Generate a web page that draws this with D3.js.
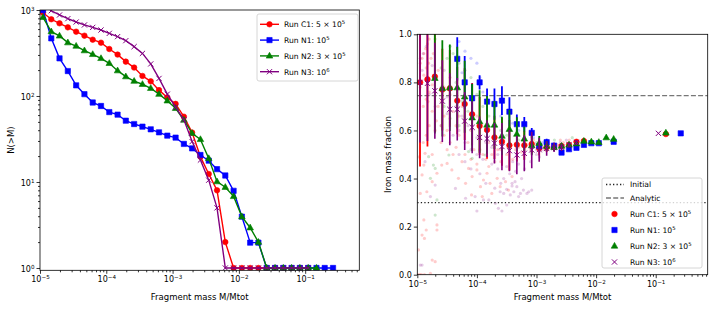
<!DOCTYPE html>
<html>
<head>
<meta charset="utf-8">
<script src="https://cdn.jsdelivr.net/npm/d3@7"></script>
<style>
  body { margin: 0; background: #fff; }
  svg { display: block; }
  text { font-family: "DejaVu Sans", sans-serif; fill: #000; }
</style>
</head>
<body>
<svg id="chart" width="714" height="311"></svg>
<script>
// fragment mass bins (M/Mtot), 8 per decade
const massBins = [1.11e-5, 1.48e-5, 1.97e-5, 2.63e-5, 3.51e-5, 4.68e-5, 6.24e-5, 8.32e-5,
  1.11e-4, 1.48e-4, 1.97e-4, 2.63e-4, 3.51e-4, 4.68e-4, 6.24e-4, 8.32e-4,
  1.11e-3, 1.48e-3, 1.97e-3, 2.63e-3, 3.51e-3, 4.68e-3, 6.24e-3, 8.32e-3,
  1.11e-2, 1.48e-2, 1.97e-2, 2.63e-2, 3.51e-2, 4.68e-2, 6.24e-2, 8.32e-2,
  0.111, 0.148, 0.197, 0.263];

const runNames = ["Run C1: 5 \u00d7 10", "Run N1: 10", "Run N2: 3 \u00d7 10", "Run N3: 10"];
const runExps = ["5", "5", "5", "6"];
const runColors = ["red", "blue", "green", "purple"];
const runMarkers = ["circle", "square", "triangle", "x"];

// left panel: cumulative number N(>M)
const countC1 = [930, 780, 700, 628, 560, 503, 452, 417, 352, 303, 251, 214, 171, 148, 117, 96, 81, 57.5, 37.5, 19.7, 12.4, 8, 2,
  1, 1, 1, 1, 1, 1, 1, 1, 1, 1];
const countN1 = [1000, 468, 274, 195, 133, 105, 84, 76.5, 65, 60.7, 51.6, 47.2, 44, 41, 37.8, 34.6, 32.8, 27.7, 24.6, 20.6, 17.7, 14.1, 11.9, 7.9, 3.95, 1.97, 1.97,
  1, 1, 1, 1, 1, 1, 1, 1, 1];
const countN2 = [822, 560, 500, 417, 381, 337, 305, 274, 240, 197, 168, 149, 137, 123, 105, 88, 72, 52.6, 36.8, 31.3, 18.8, 10.1, 8.7, 6.8, 3.95, 2.94, 2.0,
  1, 1, 1, 1, 1, 1, 1];
const countN3 = [1200, 980, 875, 793, 725, 670, 628, 585, 535, 490, 440, 375, 313, 236, 160, 105, 74, 53, 29.5, 18, 10.5, 5,
  1, 1, 1, 1, 1, 1, 1, 1, 1, 1, 1];

// right panel: binned iron mass fraction and spread
const fracC1 = [0.80, 0.813, 0.824, 0.77, 0.775, 0.724, 0.71, 0.667, 0.619, 0.602, 0.571, 0.553, 0.538, 0.541, 0.538, 0.544,
  0.526, 0.53, 0.53, 0.535, 0.54, 0.553, 0.556, null, null, null, null, null, null, null, null, null, null, 0.585];
const errC1 = [0.35, 0.28, 0.23, 0.17, 0.16, 0.14, 0.15, 0.13, 0.12, 0.12, 0.09, 0.10, 0.105, 0.07, 0.06, 0.04,
  0.03, 0.02, 0.015, 0.012, 0.01, 0.008, 0.005, null, null, null, null, null, null, null, null, null, null, 0];
const fracN1 = [null, null, null, null, null, 0.898, 0.80, 0.734, 0.80, 0.72, 0.71, 0.724, 0.678, 0.626, 0.626, 0.59,
  0.535, 0.551, 0.537, 0.508, 0.522, 0.528, 0.54, 0.547, 0.547, null, 0.553, null, null, null, null, null, null, null, null, 0.588];
const errN1 = [null, null, null, null, null, 0.09, 0.11, 0.06, 0.03, 0.055, 0.065, 0.06, 0.06, 0.04, 0.03, 0.02,
  0.015, 0.015, 0.01, 0.01, 0.008, 0.008, 0.006, 0.005, 0.005, null, 0.004, null, null, null, null, null, null, null, null, 0];
const fracN2 = [null, null, 0.817, 0.775, 0.778, 0.778, 0.74, 0.653, 0.637, 0.623, 0.623, 0.577, 0.605, 0.585, 0.565, 0.537,
  0.547, 0.535, 0.53, 0.535, 0.54, 0.545, 0.556, 0.553, 0.551, 0.57, 0.564, null, null, null, null, null, null, 0.59];
const errN2 = [null, null, 0.23, 0.2, 0.18, 0.17, 0.15, 0.14, 0.13, 0.12, 0.1, 0.08, 0.08, 0.07, 0.05, 0.04,
  0.03, 0.02, 0.015, 0.012, 0.01, 0.01, 0.008, 0.006, 0.005, 0.004, 0.004, null, null, null, null, null, null, 0];
const fracN3 = [0.80, 0.796, 0.765, 0.722, 0.688, 0.688, 0.639, 0.613, 0.571, 0.566, 0.547, 0.533, 0.516, 0.498, 0.505, 0.519,
  0.52, 0.525, 0.53, 0.53, 0.54, 0.55, null, null, null, null, null, null, null, null, null, null, 0.588];
const errN3 = [0.25, 0.24, 0.2, 0.17, 0.15, 0.13, 0.12, 0.108, 0.087, 0.076, 0.084, 0.098, 0.086, 0.08, 0.075, 0.076,
  0.05, 0.03, 0.02, 0.015, 0.01, 0.01, null, null, null, null, null, null, null, null, null, null, 0];

// individual fragments (log10 M/Mtot, iron fraction)
const cloudC1 = [[-4.97,0.49],[-4.87,0.505],[-4.89,0.456],[-4.92,0.415],[-4.95,0.338],[-4.84,0.345],[-4.75,0.387],[-4.67,0.422],
  [-4.59,0.456],[-4.5,0.463],[-4.42,0.436],[-4.31,0.401],[-4.25,0.47],[-4.19,0.38],[-4.14,0.442],[-4.08,0.408],[-4.0,0.436],
  [-3.94,0.366],[-3.89,0.394],[-3.83,0.422],[-3.78,0.38],[-3.75,0.338],[-3.66,0.401],[-3.61,0.366],[-3.52,0.387],[-3.47,0.352],
  [-3.41,0.408],[-3.91,0.325],[-4.09,0.332],[-4.89,0.228],[-4.92,0.165],[-4.88,0.151],[-4.75,0.061],[-4.7,0.054],[-4.98,0.103],
  [-4.85,0.186],[-4.67,0.207],[-4.67,0.186],[-4.99,0.0],[-4.96,0.0],[-4.93,0.0],[-4.88,0.0],[-4.78,0.006],
  [-4.95,0.88],[-4.92,0.9],[-4.89,0.92],[-4.86,0.94],[-4.83,0.96],[-4.8,0.98],[-4.95,0.78],[-4.92,0.8],[-4.89,0.83],[-4.85,0.86],
  [-4.81,0.88],[-4.77,0.9],[-4.73,0.92],[-4.9,0.7],[-4.85,0.73],[-4.8,0.76],[-4.75,0.79],[-4.7,0.82],[-4.65,0.85],[-4.6,0.72],
  [-4.55,0.66],[-4.5,0.6],[-4.45,0.75],[-4.4,0.68],[-4.35,0.62],[-4.3,0.58],[-4.25,0.7],[-4.2,0.64],[-4.15,0.55],[-4.1,0.6],
  [-4.05,0.52],[-4.0,0.66],[-3.95,0.57],[-3.9,0.5],[-3.85,0.6],[-3.8,0.55],[-3.75,0.5],[-3.7,0.58],[-3.65,0.52],[-3.6,0.47],
  [-3.5,0.5],[-3.4,0.48],[-3.3,0.53],[-3.2,0.55],[-3.1,0.52],[-3.0,0.54],[-2.9,0.53],[-2.8,0.55],[-2.7,0.54],[-2.6,0.56],
  [-4.7,0.6],[-4.6,0.55],[-4.5,0.52],[-4.8,0.62],[-4.85,0.58],[-4.9,0.55],[-4.75,0.5],
  [-4.6,0.62],[-4.55,0.58],[-4.45,0.55],[-4.4,0.5],[-4.35,0.53],[-4.2,0.5],[-4.1,0.48],[-4.0,0.46],[-3.95,0.52],[-3.85,0.48],
  [-3.8,0.45],[-3.7,0.47],[-3.6,0.52],[-3.55,0.56],[-3.45,0.54],[-3.35,0.52],[-3.25,0.51],[-3.15,0.54],[-3.05,0.56],[-2.95,0.55],
  [-2.85,0.52],[-2.75,0.53],[-2.65,0.54],[-2.55,0.55],[-2.45,0.56],[-2.35,0.55],[-4.3,0.66],[-4.2,0.72],[-4.45,0.82],[-4.55,0.78],
  [-4.65,0.7],[-4.75,0.68],[-4.82,0.72],[-4.68,0.64]];
const cloudN1 = [[-4.3,0.97],[-4.2,0.93],[-4.1,0.9],[-4.0,0.88],[-3.95,0.82],[-4.25,0.84],[-3.9,0.76],[-3.8,0.72],[-3.7,0.7],
  [-3.6,0.66],[-3.4,0.63],[-3.3,0.6],[-3.2,0.56],[-3.05,0.57],[-2.9,0.55],[-2.6,0.53],[-2.3,0.55]];
const cloudN2 = [[-4.81,0.491],[-4.73,0.456],[-4.7,0.442],[-4.78,0.401],[-4.7,0.248],[-4.47,0.498],[-4.14,0.512],[-3.86,0.498],
  [-4.08,0.484],[-4.67,0.311],[-4.5,0.9],[-4.4,0.92],[-4.3,0.88],[-4.2,0.85],[-4.1,0.82],[-4.35,0.8],[-4.6,0.86],[-4.0,0.75],
  [-3.9,0.7],[-3.8,0.66],[-4.25,0.72],[-4.15,0.68],[-3.7,0.62],[-3.6,0.6],[-3.5,0.58],[-4.45,0.95],[-4.7,0.98],[-4.55,0.7],
  [-4.45,0.65],[-4.3,0.62],[-3.3,0.56],[-3.0,0.55],[-2.7,0.56],[-2.4,0.57]];
const cloudN3 = [[-4.95,0.04],[-4.92,0.04],[-3.61,0.345],[-3.55,0.338],[-3.5,0.355],[-3.44,0.332],[-3.38,0.345],[-3.33,0.366],
  [-3.27,0.338],[-3.22,0.352],[-3.16,0.338],[-3.41,0.369],[-3.3,0.325],[-3.64,0.276],[-3.58,0.265],[-3.5,0.29],[-3.69,0.297],
  [-3.8,0.311],[-3.89,0.311],[-4.0,0.265],[-4.03,0.325],[-3.13,0.345],[-3.08,0.352],[-3.41,0.38],[-3.36,0.387],[-4.87,0.47],
  [-4.7,0.373],[-4.19,0.318],[-4.36,0.359],[-4.78,0.325],[-3.55,0.4],[-3.45,0.42],[-3.25,0.4],[-3.35,0.43],[-3.65,0.44],
  [-3.75,0.46],[-3.9,0.48],[-4.95,0.9],[-4.9,0.92],[-4.85,0.95],[-4.92,0.85],[-4.8,0.75],[-4.7,0.7],[-4.6,0.62],[-4.5,0.67],
  [-4.4,0.58],[-4.3,0.6],[-4.2,0.55],[-4.1,0.52],[-4.0,0.5],[-3.2,0.5],[-3.0,0.52],[-2.8,0.54],[-2.6,0.55],[-2.5,0.56],
  [-4.3,0.5],[-4.2,0.47],[-4.1,0.44],[-3.95,0.42],[-3.85,0.38],[-3.7,0.36],[-3.6,0.38],[-3.5,0.45],[-3.4,0.47],[-3.3,0.46],
  [-3.2,0.44],[-3.1,0.47],[-3.0,0.5],[-2.9,0.52],[-2.95,0.49],[-3.65,0.5],[-3.75,0.53],[-3.85,0.55],[-4.0,0.57],[-4.15,0.62],
  [-4.25,0.66],[-4.35,0.7],[-4.5,0.74],[-4.6,0.78],[-4.7,0.82],[-4.75,0.87],[-4.55,0.85]];

const initialFrac = 0.30;
const analyticFrac = 0.745;

const counts = [countC1, countN1, countN2, countN3];
const fracs = [fracC1, fracN1, fracN2, fracN3];
const errs = [errC1, errN1, errN2, errN3];
const clouds = [cloudC1, cloudN1, cloudN2, cloudN3];

const svg = d3.select("#chart");
const tickFont = 8;
const labelFont = 8.5;
const legendFont = 7.6;

// panel boxes
const L = {left: 40, right: 359.3, top: 10, bottom: 270.3};
const R = {left: 417.3, right: 707.7, top: 34.3, bottom: 274.7};

const xL = d3.scaleLog().domain([1e-5, 0.655]).range([L.left, L.right]);
const yL = d3.scaleLog().domain([0.94, 1000]).range([L.bottom, L.top]);
const xR = d3.scaleLog().domain([1e-5, 0.745]).range([R.left, R.right]);
const yR = d3.scaleLinear().domain([0, 1]).range([R.bottom, R.top]);

function markerPath(type) {
  if (type === "circle") return d3.symbol(d3.symbolCircle, 24)();
  if (type === "square") return d3.symbol(d3.symbolSquare, 28)();
  if (type === "triangle") return "M0,-3.6L3.3,2.2L-3.3,2.2Z";
  return "M-2.6,-2.6L2.6,2.6M-2.6,2.6L2.6,-2.6";
}
function drawMarker(sel, type, color) {
  sel.attr("d", markerPath(type))
    .attr("fill", type === "x" ? "none" : color)
    .attr("stroke", color)
    .attr("stroke-width", type === "x" ? 1 : 0.6);
}

function powLabel(sel, base, exp) {
  sel.text(null);
  sel.append("tspan").text(base);
  sel.append("tspan").attr("font-size", "0.7em").attr("dy", "-0.55em").text(exp);
}
const expText = d => { const e = Math.round(Math.log10(d)); return (e < 0 ? "\u2212" : "") + Math.abs(e); };

function minorsFor(scale) {
  const [a, b] = scale.domain();
  const out = [];
  for (let e = Math.floor(Math.log10(a)); e <= Math.ceil(Math.log10(b)); e++)
    for (let m = 2; m <= 9; m++) { const v = m * Math.pow(10, e); if (v >= a && v <= b) out.push(v); }
  return out;
}

function styleAxis(g) {
  g.attr("font-family", "DejaVu Sans, sans-serif").attr("font-size", tickFont);
  g.select(".domain").remove();
  g.selectAll(".tick line").attr("stroke", "#000").attr("stroke-width", 0.8);
}

function logAxisX(box, scale, majors) {
  const g = svg.append("g").attr("transform", `translate(0,${box.bottom})`);
  g.call(d3.axisBottom(scale).tickValues(majors).tickSize(3.5).tickPadding(3).tickFormat(() => ""));
  styleAxis(g);
  g.selectAll(".tick text").each(function(d) { powLabel(d3.select(this), "10", expText(d)); });
  const gm = svg.append("g").attr("transform", `translate(0,${box.bottom})`);
  gm.call(d3.axisBottom(scale).tickValues(minorsFor(scale)).tickSize(2).tickFormat(() => ""));
  styleAxis(gm);
}

function frame(box) {
  svg.append("rect").attr("x", box.left).attr("y", box.top)
    .attr("width", box.right - box.left).attr("height", box.bottom - box.top)
    .attr("fill", "none").attr("stroke", "#000").attr("stroke-width", 0.8);
}

function clip(id, box) {
  svg.append("clipPath").attr("id", id).append("rect")
    .attr("x", box.left).attr("y", box.top)
    .attr("width", box.right - box.left).attr("height", box.bottom - box.top);
}
clip("clipL", L);
clip("clipR", R);

// ---------------- left panel ----------------
const gL = svg.append("g").attr("clip-path", "url(#clipL)");
counts.forEach((arr, r) => {
  const pts = arr.map((v, i) => [massBins[i], v]);
  gL.append("path").datum(pts)
    .attr("d", d3.line().x(d => xL(d[0])).y(d => yL(d[1])))
    .attr("fill", "none").attr("stroke", runColors[r]).attr("stroke-width", 1.4);
  gL.selectAll(null).data(pts).join("path")
    .attr("transform", d => `translate(${xL(d[0])},${yL(d[1])})`)
    .call(drawMarker, runMarkers[r], runColors[r]);
});

logAxisX(L, xL, [1e-5, 1e-4, 1e-3, 1e-2, 1e-1]);

const gyL = svg.append("g").attr("transform", `translate(${L.left},0)`);
gyL.call(d3.axisLeft(yL).tickValues([1, 10, 100, 1000]).tickSize(3.5).tickPadding(2).tickFormat(() => ""));
styleAxis(gyL);
gyL.selectAll(".tick text").attr("dy", "0.45em").each(function(d) { powLabel(d3.select(this), "10", expText(d)); });
const gyLm = svg.append("g").attr("transform", `translate(${L.left},0)`);
gyLm.call(d3.axisLeft(yL).tickValues(minorsFor(yL)).tickSize(2).tickFormat(() => ""));
styleAxis(gyLm);

frame(L);

svg.append("text").attr("x", (L.left + L.right) / 2).attr("y", 300)
  .attr("text-anchor", "middle").attr("font-size", labelFont).text("Fragment mass M/Mtot");
svg.append("text").attr("transform", `translate(14,${(L.top + L.bottom) / 2}) rotate(-90)`)
  .attr("text-anchor", "middle").attr("font-size", labelFont).text("N(>M)");

// left legend
const legL = svg.append("g");
legL.append("rect").attr("x", 257).attr("y", 14).attr("width", 101).attr("height", 67).attr("rx", 2)
  .attr("fill", "#fff").attr("fill-opacity", 0.8).attr("stroke", "#ccc").attr("stroke-width", 0.8);
runNames.forEach((name, r) => {
  const y = 24.3 + 15.8 * r;
  legL.append("line").attr("x1", 260).attr("x2", 279).attr("y1", y).attr("y2", y)
    .attr("stroke", runColors[r]).attr("stroke-width", 1.4);
  legL.append("path").attr("transform", `translate(269.5,${y})`).call(drawMarker, runMarkers[r], runColors[r]);
  legL.append("text").attr("x", 284).attr("y", y + 2.8).attr("font-size", legendFont)
    .call(powLabel, name, runExps[r]);
});

// ---------------- right panel ----------------
const gR = svg.append("g").attr("clip-path", "url(#clipR)");
clouds.forEach((pts, r) => {
  gR.selectAll(null).data(pts).join("circle")
    .attr("cx", d => xR(Math.pow(10, d[0]))).attr("cy", d => yR(d[1])).attr("r", 1.6)
    .attr("fill", runColors[r]).attr("fill-opacity", 0.2);
});

gR.append("line").attr("x1", R.left).attr("x2", R.right).attr("y1", yR(initialFrac)).attr("y2", yR(initialFrac))
  .attr("stroke", "#222").attr("stroke-width", 1.3).attr("stroke-dasharray", "1.3,2.2");
gR.append("line").attr("x1", R.left).attr("x2", R.right).attr("y1", yR(analyticFrac)).attr("y2", yR(analyticFrac))
  .attr("stroke", "#777").attr("stroke-width", 1.3).attr("stroke-dasharray", "5,2.2");

fracs.forEach((arr, r) => {
  const rows = arr.map((v, i) => ({m: massBins[i], v, e: errs[r][i]})).filter(d => d.v != null);
  gR.selectAll(null).data(rows.filter(d => d.e > 0)).join("line")
    .attr("x1", d => xR(d.m)).attr("x2", d => xR(d.m))
    .attr("y1", d => yR(d.v - d.e)).attr("y2", d => yR(d.v + d.e))
    .attr("stroke", runColors[r]).attr("stroke-width", r === 3 ? 1.6 : 1.8);
  gR.selectAll(null).data(rows).join("path")
    .attr("transform", d => `translate(${xR(d.m)},${yR(d.v)})`)
    .call(drawMarker, runMarkers[r], runColors[r]);
});

logAxisX(R, xR, [1e-5, 1e-4, 1e-3, 1e-2, 1e-1]);
const gyR = svg.append("g").attr("transform", `translate(${R.left},0)`);
gyR.call(d3.axisLeft(yR).tickValues([0, 0.2, 0.4, 0.6, 0.8, 1.0]).tickSize(3.5).tickPadding(2).tickFormat(d3.format(".1f")));
styleAxis(gyR);

frame(R);

svg.append("text").attr("x", (R.left + R.right) / 2).attr("y", 300)
  .attr("text-anchor", "middle").attr("font-size", labelFont).text("Fragment mass M/Mtot");
svg.append("text").attr("transform", `translate(391,${(R.top + R.bottom) / 2}) rotate(-90)`)
  .attr("text-anchor", "middle").attr("font-size", labelFont).text("Iron mass fraction");

// right legend
const legR = svg.append("g");
legR.append("rect").attr("x", 602).attr("y", 178).attr("width", 100).attr("height", 90).attr("rx", 2)
  .attr("fill", "#fff").attr("fill-opacity", 0.8).attr("stroke", "#ccc").attr("stroke-width", 0.8);
const refRows = [["Initial", "#222", "1.3,2.2"], ["Analytic", "#777", "5,2.2"]];
refRows.forEach((row, i) => {
  const y = 184.5 + 13.5 * i;
  legR.append("line").attr("x1", 606).attr("x2", 624).attr("y1", y).attr("y2", y)
    .attr("stroke", row[1]).attr("stroke-width", 1.3).attr("stroke-dasharray", row[2]);
  legR.append("text").attr("x", 630).attr("y", y + 2.8).attr("font-size", legendFont).text(row[0]);
});
runNames.forEach((name, r) => {
  const y = 214 + 16 * r;
  legR.append("path").attr("transform", `translate(614.5,${y})`).call(drawMarker, runMarkers[r], runColors[r]);
  legR.append("text").attr("x", 630).attr("y", y + 2.8).attr("font-size", legendFont)
    .call(powLabel, name, runExps[r]);
});
</script>
</body>
</html>
